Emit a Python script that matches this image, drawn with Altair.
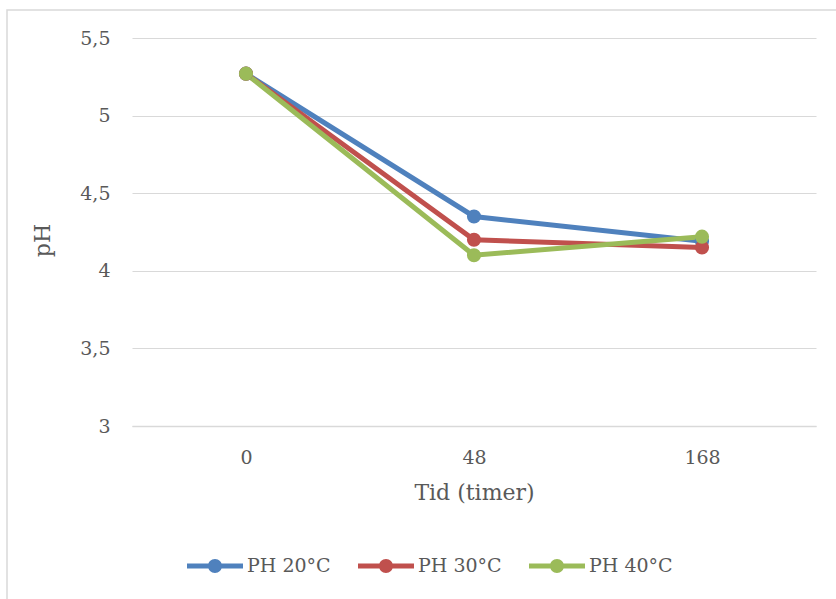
import altair as alt
import pandas as pd

# pH measured over time at three temperatures
hours = ["0", "48", "168"]
ph_20 = [5.27, 4.35, 4.19]
ph_30 = [5.27, 4.20, 4.15]
ph_40 = [5.27, 4.10, 4.22]
series = ["PH 20°C", "PH 30°C", "PH 40°C"]
colors = ["#4F81BD", "#C0504D", "#9BBB59"]

rows = []
for name, vals in zip(series, [ph_20, ph_30, ph_40]):
    for h, v in zip(hours, vals):
        rows.append({"Tid": h, "pH": v, "Serie": name})
df = pd.DataFrame(rows)

FONT = "DejaVu Serif"
TEXT = "#595959"

# legend glyph: a short thick line with a dot in the middle
legend_glyph = ("M -1 -0.09 H 1 V 0.09 H -1 Z "
                "M 0.25 0 A 0.25 0.25 0 1 1 -0.25 0 A 0.25 0.25 0 1 1 0.25 0 Z")

x_enc = alt.X("Tid:N", sort=hours, scale=alt.Scale(padding=0.5),
              axis=alt.Axis(title="Tid (timer)", labelAngle=0, ticks=False,
                            labelPadding=22, titlePadding=15, domainColor="#d9d9d9",
                            domainWidth=1.5, grid=False))
y_enc = alt.Y("pH:Q", scale=alt.Scale(domain=[3, 5.5], nice=False, zero=False),
              axis=alt.Axis(title="pH", values=[3, 3.5, 4, 4.5, 5, 5.5], domain=False,
                            ticks=False, labelPadding=22, gridColor="#d9d9d9",
                            labelExpr="replace(toString(datum.value), '.', ',')",
                            titleX=-78, titleY=202, titleAngle=-90))
color_enc = alt.Color("Serie:N", sort=series,
                      scale=alt.Scale(domain=series, range=colors),
                      legend=alt.Legend(title=None, orient="none", direction="horizontal",
                                        legendX=55, legendY=500, columns=3,
                                        symbolType=legend_glyph, symbolSize=3136,
                                        symbolStrokeWidth=0, symbolOpacity=1,
                                        labelFontSize=19, labelColor=TEXT, labelFont=FONT,
                                        columnPadding=27, labelOffset=4))

base = alt.Chart(df).encode(x=x_enc, y=y_enc, color=color_enc)
lines = base.mark_line(strokeWidth=5)
points = base.mark_circle(size=200, opacity=1)

frame = alt.Chart(alt.Data(values=[{}])).mark_rect(
    fill=None, stroke="#d9d9d9", strokeWidth=1.5
).encode(x=alt.value(-125), x2=alt.value(720), y=alt.value(-28), y2=alt.value(580))

chart = alt.layer(frame, lines, points).properties(
    width=684, height=388,
    background="white",
    autosize=alt.AutoSizeParams(type="none"),
    padding={"left": 132, "top": 38, "right": 20, "bottom": 173},
).configure_view(stroke=None).configure_axis(
    labelFont=FONT, titleFont=FONT, labelFontSize=19, titleFontSize=22,
    labelColor=TEXT, titleColor=TEXT, titleFontWeight="normal",
)

chart.save("out.html", embed_options={"renderer": "svg", "actions": False})
